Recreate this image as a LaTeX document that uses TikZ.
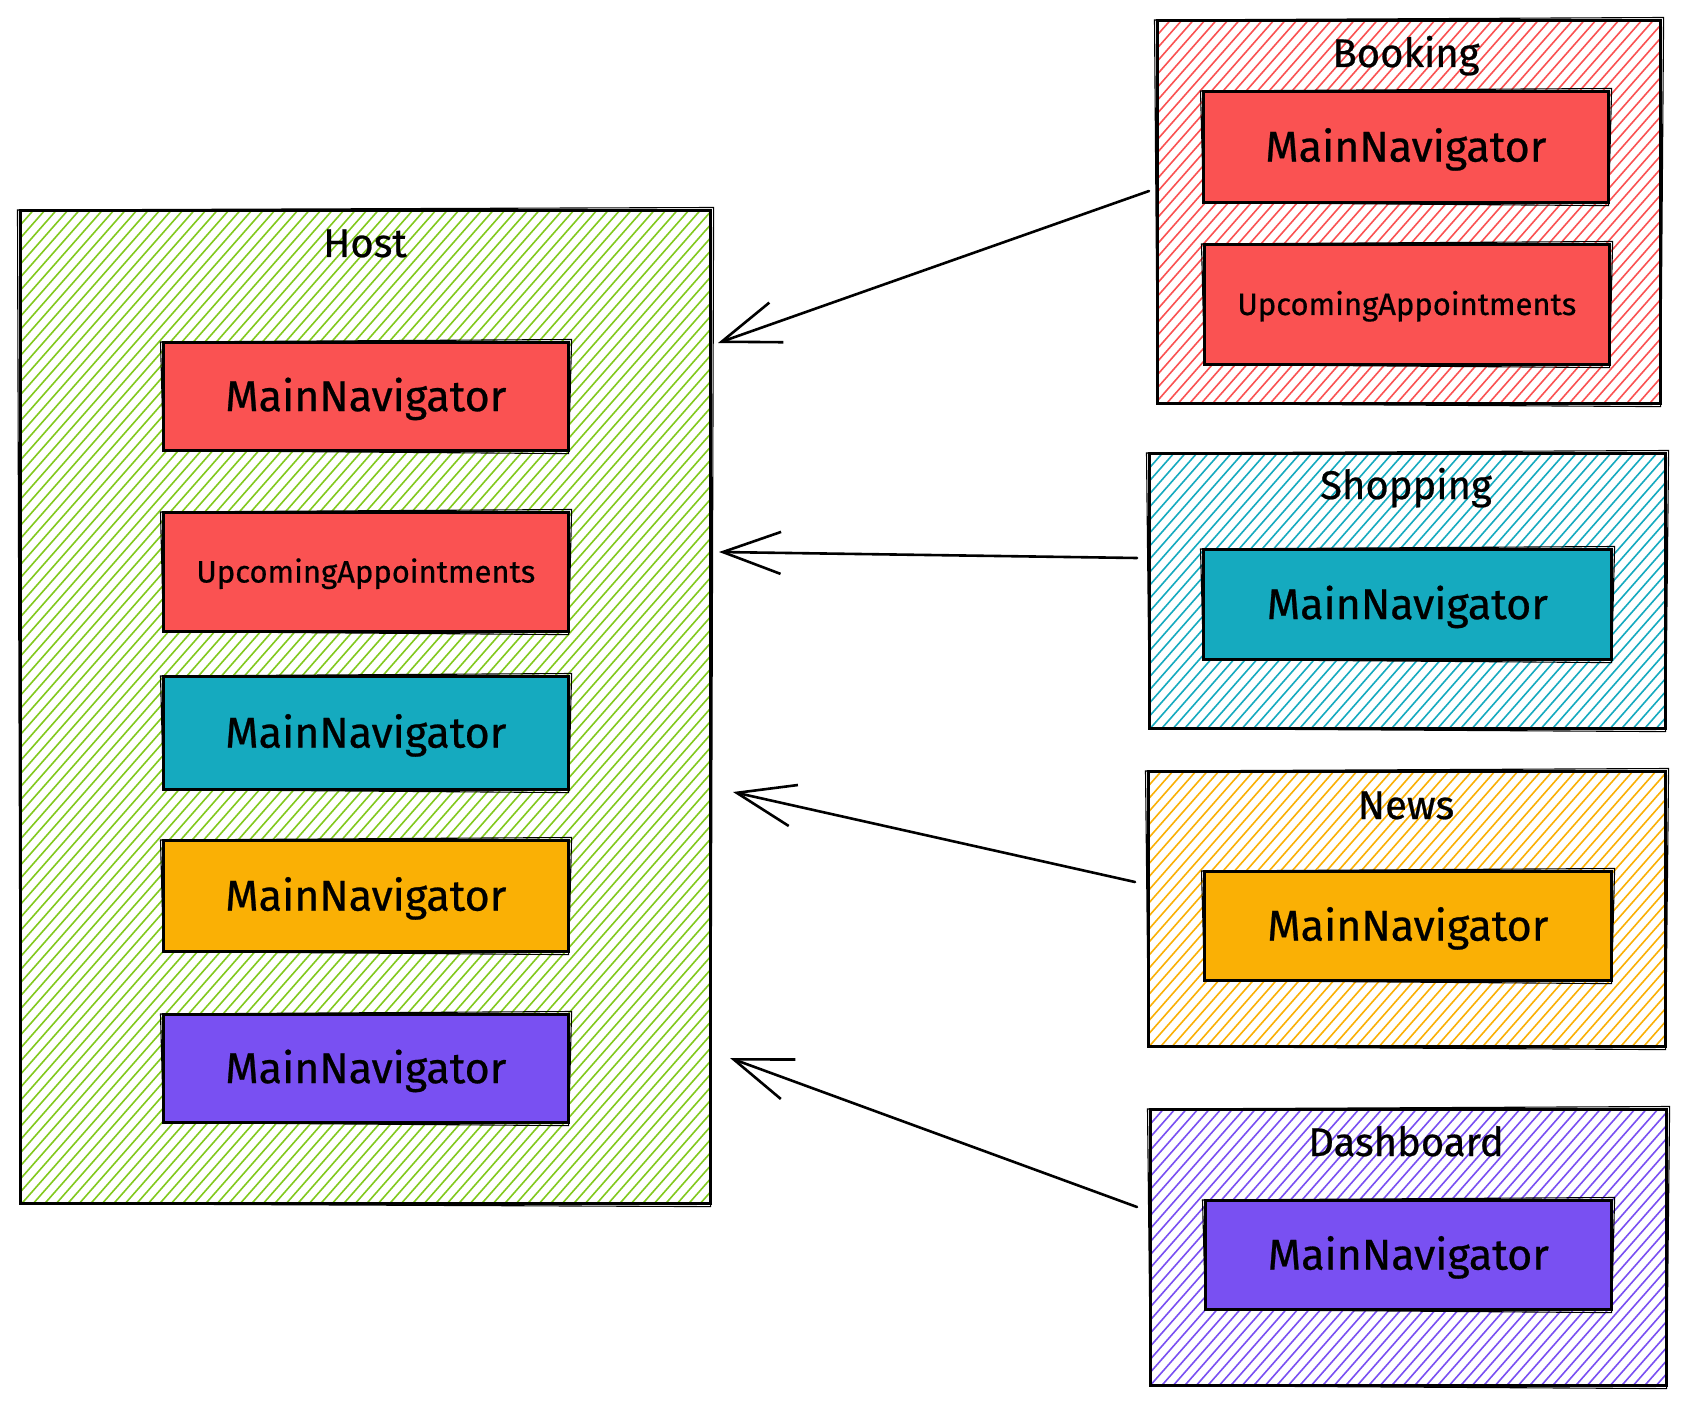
\documentclass[tikz,border=0pt]{standalone}
\usepackage{fontspec}
\setmainfont{Fira Sans}[UprightFeatures={FakeBold=0.6}]
\usetikzlibrary{arrows.meta}
\definecolor{exred}{HTML}{FA5252}
\definecolor{exteal}{HTML}{15AABF}
\definecolor{exorange}{HTML}{FAB005}
\definecolor{expurple}{HTML}{7950F2}
\definecolor{exgreen}{HTML}{82C91E}
\newcommand{\skbox}[1]{%
  \draw[skline] ([shift={(-1.5,1)}]#1.north west) -- ([shift={(2,-1.5)}]#1.north east)
    -- ([shift={(-1,2)}]#1.south east) -- ([shift={(1.5,-1)}]#1.south west) -- cycle;}
\begin{document}
\begin{tikzpicture}[x=1pt,y=-1pt,
  hatch/.style={path picture={%
    \pgfpointanchor{path picture bounding box}{south west}\pgfgetlastxy{\hxa}{\hya}%
    \pgfpointanchor{path picture bounding box}{north east}\pgfgetlastxy{\hxb}{\hyb}%
    \pgfmathsetmacro{\hW}{\hxb-\hxa}%
    \pgfmathsetmacro{\hH}{\hyb-\hya}%
    \pgfmathsetmacro{\hdx}{0.88*\hH}%
    \pgfmathsetmacro{\hxz}{\hxa-\hdx-10}%
    \pgfmathtruncatemacro{\hN}{(\hW+\hdx)/11.5+3}%
    \foreach \k in {0,...,\hN}{%
      \pgfmathsetmacro{\hxs}{\hxz+\k*11.5}%
      \draw[draw=#1, line width=1.6pt] (\hxs pt,\hya) -- ++(\hdx pt,\hH pt);}%
  }},
  box/.style={draw=black, line width=2.6pt, inner sep=0pt, anchor=north west},
  container/.style={box, hatch=#1},
  inner/.style={box, fill=#1, font=\fontsize{43}{50}\selectfont, text height=29.6pt, text depth=0pt},
  innersmall/.style={box, fill=#1, font=\fontsize{31}{36}\selectfont, text height=21.4pt, text depth=0pt},
  ttl/.style={inner sep=0pt, anchor=base, font=\fontsize{40}{46}\selectfont},
  skline/.style={draw=black, line width=1.1pt},
  arr/.style={line width=2.6pt, line cap=round, line join=round, -{Straight Barb[length=58pt,width=42pt]}}
]
\useasboundingbox (0,0) rectangle (1684,1404);

% Host
\node[container=exgreen, minimum width=690pt, minimum height=993pt] (host) at (19,209) {};
\skbox{host}
\node[ttl] (hostT) at (365,257) {Host};
\node[inner=exred, minimum width=405pt, minimum height=108pt] (hmn1) at (162,341) {MainNavigator};
\skbox{hmn1}
\node[innersmall=exred, minimum width=405pt, minimum height=119pt] (hua) at (162,511) {UpcomingAppointments};
\skbox{hua}
\node[inner=exteal, minimum width=405pt, minimum height=113pt] (hmn2) at (162,675) {MainNavigator};
\skbox{hmn2}
\node[inner=exorange, minimum width=405pt, minimum height=111pt] (hmn3) at (162,839) {MainNavigator};
\skbox{hmn3}
\node[inner=expurple, minimum width=405pt, minimum height=108pt] (hmn4) at (162,1013) {MainNavigator};
\skbox{hmn4}

% Booking
\node[container=exred, minimum width=503pt, minimum height=383pt] (book) at (1156,19) {};
\skbox{book}
\node[ttl] (bookT) at (1406,67) {Booking};
\node[inner=exred, minimum width=405pt, minimum height=111pt] (bmn) at (1202,90) {MainNavigator};
\skbox{bmn}
\node[innersmall=exred, minimum width=405pt, minimum height=120pt] (bua) at (1203,243) {UpcomingAppointments};
\skbox{bua}

% Shopping
\node[container=exteal, minimum width=516pt, minimum height=275pt] (shop) at (1148,452) {};
\skbox{shop}
\node[ttl] (shopT) at (1406,499) {Shopping};
\node[inner=exteal, minimum width=408pt, minimum height=110pt] (smn) at (1202,548) {MainNavigator};
\skbox{smn}

% News
\node[container=exorange, minimum width=517pt, minimum height=275pt] (news) at (1147,770) {};
\skbox{news}
\node[ttl] (newsT) at (1406,819) {News};
\node[inner=exorange, minimum width=407pt, minimum height=109pt] (nmn) at (1203,870) {MainNavigator};
\skbox{nmn}

% Dashboard
\node[container=expurple, minimum width=516pt, minimum height=276pt] (dash) at (1149,1108) {};
\skbox{dash}
\node[ttl] (dashT) at (1406,1156) {Dashboard};
\node[inner=expurple, minimum width=406pt, minimum height=109pt] (dmn) at (1204,1199) {MainNavigator};
\skbox{dmn}

% arrows
\coordinate (a1s) at (1149,191); \coordinate (a1e) at (718,343);
\coordinate (a2s) at (1137,558); \coordinate (a2e) at (719,552);
\coordinate (a3s) at (1135,882); \coordinate (a3e) at (733,792);
\coordinate (a4s) at (1137,1207); \coordinate (a4e) at (730,1058);
\draw[arr] (a1s) -- (a1e);
\draw[arr] (a2s) -- (a2e);
\draw[arr] (a3s) -- (a3e);
\draw[arr] (a4s) -- (a4e);
\end{tikzpicture}
\end{document}
